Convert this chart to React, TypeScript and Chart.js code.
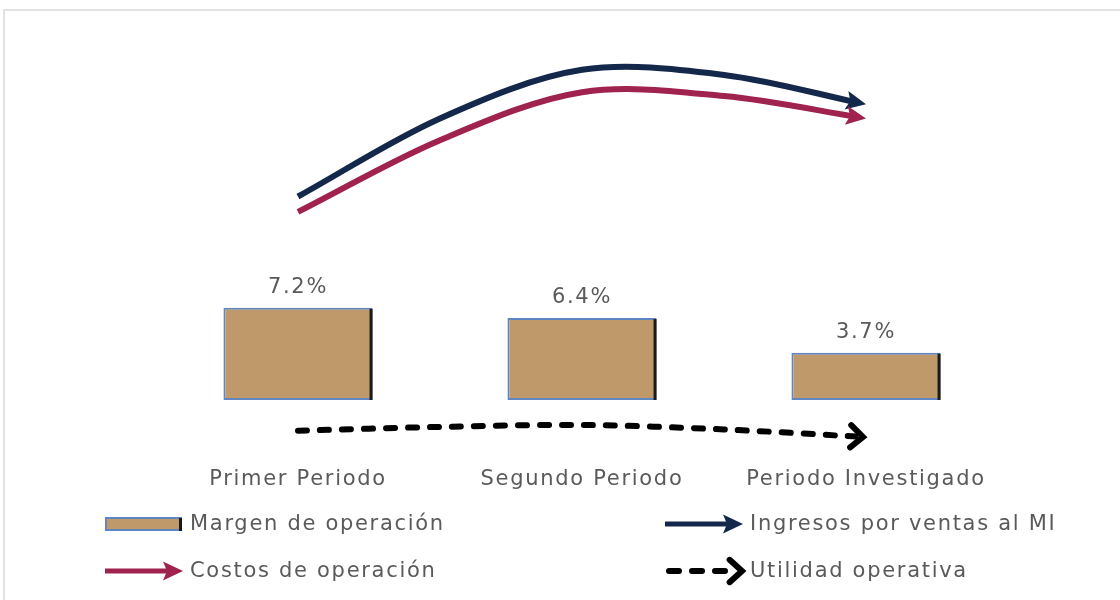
import React, { useEffect, useRef } from "react";
import { Chart, registerables } from "chart.js";

Chart.register(...registerables);

// ---- data ----
const categories = ["Primer Periodo", "Segundo Periodo", "Periodo Investigado"];
const margenOperacion = [7.2, 6.4, 3.7];
// trend arrows: positions along the period axis (0 = first period, 2 = last period)
const trendSteps = [0, 0.5, 1, 1.5, 2];
const ingresosVentas = [15.9, 22.0, 25.8, 25.4, 23.1];
const costosOperacion = [14.7, 20.3, 24.05, 23.75, 22.0];
const utilidadOperativa = [-2.4, -2.1, -1.95, -2.3, -2.9];
const seriesLabels = [
  "Margen de operación",
  "Ingresos por ventas al MI",
  "Costos de operación",
  "Utilidad operativa",
];

const FONT = '"DejaVu Sans", sans-serif';
const FONT_SIZE = 21;
const TEXT = "#5a5a5a";
const TAN = "#C0996A";
const BLUE_EDGE = "#5F86C0";
const DARK_EDGE = "#1A1A1A";
const NAVY = "#13284B";
const CRIMSON = "#A0224E";

const toPoints = (xs: number[], ys: number[]) => xs.map((x, i) => ({ x, y: ys[i] }));

function drawSolidHead(ctx: CanvasRenderingContext2D, x: number, y: number, ang: number, color: string) {
  const len = 20;
  const hw = 9.5;
  ctx.save();
  ctx.translate(x, y);
  ctx.rotate(ang);
  ctx.fillStyle = color;
  ctx.beginPath();
  ctx.moveTo(0, 0);
  ctx.lineTo(-len, -hw);
  ctx.lineTo(-len + 4, 0);
  ctx.lineTo(-len, hw);
  ctx.closePath();
  ctx.fill();
  ctx.restore();
}

function drawChevron(ctx: CanvasRenderingContext2D, x: number, y: number, ang: number, color: string) {
  const arm = 19;
  const a = (36 * Math.PI) / 180;
  ctx.save();
  ctx.translate(x, y);
  ctx.rotate(ang);
  ctx.strokeStyle = color;
  ctx.lineWidth = 6;
  ctx.lineCap = "round";
  ctx.lineJoin = "miter";
  ctx.beginPath();
  ctx.moveTo(-arm * Math.cos(a), -arm * Math.sin(a));
  ctx.lineTo(-3, 0);
  ctx.lineTo(-arm * Math.cos(a), arm * Math.sin(a));
  ctx.stroke();
  ctx.restore();
}

const spacingPlugin = {
  id: "spacing",
  beforeLayout(chart: any) {
    chart.ctx.letterSpacing = "1.7px";
  },
  beforeDraw(chart: any) {
    chart.ctx.letterSpacing = "1.7px";
  },
};

const clipPlugin = {
  id: "arrowClip",
  beforeDatasetDraw(chart: any, args: any) {
    const ds = chart.data.datasets[args.index];
    if (!ds.arrow) return;
    const pts = args.meta.data;
    const last = pts[pts.length - 1];
    const ctx = chart.ctx;
    ctx.save();
    ctx.beginPath();
    ctx.rect(0, 0, last.x - (ds.arrow === "solid" ? 10 : 8), chart.height);
    ctx.clip();
  },
  afterDatasetDraw(chart: any, args: any) {
    const ds = chart.data.datasets[args.index];
    if (!ds.arrow) return;
    chart.ctx.restore();
  },
};

const decorPlugin = {
  id: "decor",
  afterDatasetsDraw(chart: any) {
    const ctx = chart.ctx;
    chart.data.datasets.forEach((ds: any, i: number) => {
      const meta = chart.getDatasetMeta(i);
      if (meta.type === "bar") {
        meta.data.forEach((bar: any, j: number) => {
          const right = bar.x + bar.width / 2;
          ctx.save();
          ctx.strokeStyle = DARK_EDGE;
          ctx.lineWidth = 3;
          ctx.beginPath();
          ctx.moveTo(right - 1.5, bar.y + 1);
          ctx.lineTo(right - 1.5, bar.base);
          ctx.stroke();
          ctx.fillStyle = TEXT;
          ctx.font = `${FONT_SIZE}px ${FONT}`;
          ctx.textAlign = "center";
          ctx.textBaseline = "alphabetic";
          ctx.fillText(`${ds.data[j].toFixed(1)}%`, bar.x, bar.y - 15);
          ctx.restore();
        });
      } else if (ds.arrow) {
        const pts = meta.data;
        const last = pts[pts.length - 1];
        let dx = last.x - last.cp1x;
        let dy = last.y - last.cp1y;
        if (!isFinite(dx) || Math.hypot(dx, dy) < 0.01) {
          const prev = pts[pts.length - 2];
          dx = last.x - prev.x;
          dy = last.y - prev.y;
        }
        const ang = Math.atan2(dy, dx);
        if (ds.arrow === "solid") drawSolidHead(ctx, last.x, last.y, ang, ds.borderColor);
        else drawChevron(ctx, last.x, last.y, ang, ds.borderColor);
      }
    });
  },
  afterDraw(chart: any) {
    const ctx = chart.ctx;
    const cols = [105, 665];
    const rows = [524, 571];
    chart.data.datasets.forEach((ds: any, i: number) => {
      const x = cols[i % 2];
      const y = rows[Math.floor(i / 2)];
      ctx.save();
      if (ds.type === "bar") {
        ctx.fillStyle = TAN;
        ctx.fillRect(x, y - 7, 77, 14);
        ctx.strokeStyle = BLUE_EDGE;
        ctx.lineWidth = 2;
        ctx.strokeRect(x + 1, y - 6, 75, 12);
        ctx.strokeStyle = DARK_EDGE;
        ctx.lineWidth = 3;
        ctx.beginPath();
        ctx.moveTo(x + 75.5, y - 6);
        ctx.lineTo(x + 75.5, y + 7);
        ctx.stroke();
      } else if (ds.arrow === "solid") {
        ctx.strokeStyle = ds.borderColor;
        ctx.lineWidth = 5;
        ctx.beginPath();
        ctx.moveTo(x, y);
        ctx.lineTo(x + 66, y);
        ctx.stroke();
        drawSolidHead(ctx, x + 78, y, 0, ds.borderColor);
      } else {
        ctx.strokeStyle = ds.borderColor;
        ctx.lineWidth = 6;
        ctx.lineCap = "round";
        ctx.setLineDash([10, 13]);
        ctx.beginPath();
        ctx.moveTo(x + 4, y);
        ctx.lineTo(x + 62, y);
        ctx.stroke();
        ctx.setLineDash([]);
        drawChevron(ctx, x + 80, y, 0, ds.borderColor);
      }
      ctx.fillStyle = TEXT;
      ctx.font = `${FONT_SIZE}px ${FONT}`;
      ctx.textAlign = "left";
      ctx.textBaseline = "middle";
      ctx.fillText(ds.label, x + 85, y + 1);
      ctx.restore();
    });
  },
};

export default function App() {
  const ref = useRef<HTMLCanvasElement | null>(null);

  useEffect(() => {
    if (!ref.current) return;
    const lineCommon = {
      type: "line",
      xAxisID: "x2",
      borderWidth: 6,
      tension: 0.33,
      pointRadius: 0,
      fill: false,
    };
    const chart = new Chart(ref.current, {
      type: "bar",
      data: {
        labels: categories,
        datasets: [
          {
            type: "bar",
            xAxisID: "x",
            label: seriesLabels[0],
            data: margenOperacion,
            backgroundColor: TAN,
            borderColor: BLUE_EDGE,
            borderWidth: 2,
            borderSkipped: false,
            grouped: false,
            categoryPercentage: 1,
            barPercentage: 0.525,
          } as any,
          {
            ...lineCommon,
            label: seriesLabels[1],
            data: toPoints(trendSteps, ingresosVentas),
            borderColor: NAVY,
            arrow: "solid",
          } as any,
          {
            ...lineCommon,
            label: seriesLabels[2],
            data: toPoints(trendSteps, costosOperacion),
            borderColor: CRIMSON,
            arrow: "solid",
          } as any,
          {
            ...lineCommon,
            label: seriesLabels[3],
            data: toPoints(trendSteps, utilidadOperativa),
            borderColor: "#000000",
            borderDash: [9, 13],
            borderCapStyle: "round",
            arrow: "chevron",
          } as any,
        ],
      },
      options: {
        animation: false,
        responsive: false,
        maintainAspectRatio: false,
        layout: { padding: { left: 156, right: 112, top: 20, bottom: 104 } },
        plugins: {
          legend: { display: false },
          tooltip: { enabled: false },
        },
        scales: {
          x: {
            type: "category",
            offset: true,
            grid: { display: false, drawTicks: false },
            border: { display: false },
            ticks: {
              color: TEXT,
              font: { family: FONT, size: FONT_SIZE },
              padding: 4,
              maxRotation: 0,
              autoSkip: false,
            },
          },
          x2: {
            type: "linear",
            axis: "x",
            position: "bottom",
            display: false,
            offset: false,
            grid: { offset: false },
            min: -0.5,
            max: 2.5,
          },
          y: {
            display: false,
            min: -4.906,
            max: 29.69,
          },
        },
      } as any,
      plugins: [spacingPlugin, clipPlugin, decorPlugin],
    });
    return () => chart.destroy();
  }, []);

  return (
    <div style={{ position: "absolute", left: 0, top: 0, width: 1120, height: 600, background: "#fff" }}>
      <div
        style={{
          position: "absolute",
          left: 3,
          top: 9,
          width: 1117,
          height: 591,
          borderTop: "2px solid #e2e2e2",
          borderLeft: "2px solid #e2e2e2",
          boxSizing: "border-box",
        }}
      />
      <canvas ref={ref} width={1120} height={600} style={{ position: "absolute", left: 0, top: 0 }} />
    </div>
  );
}
